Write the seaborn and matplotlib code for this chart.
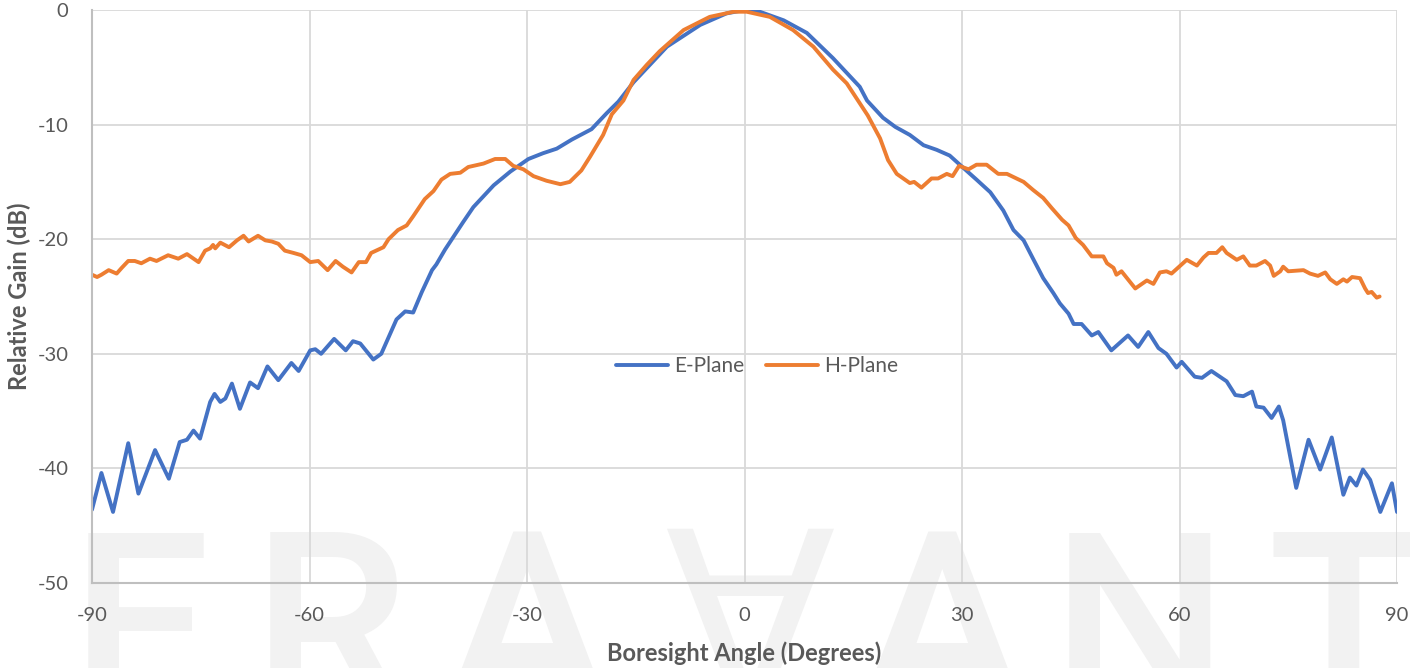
import pandas as pd
import matplotlib
matplotlib.use("Agg")
import matplotlib.pyplot as plt
from matplotlib.ticker import MultipleLocator
import seaborn as sns

# E-plane pattern
e_angle = [-90.0, -88.7, -87.1, -85.0, -83.6, -81.3, -79.4, -77.9, -76.9, -76.0,
           -75.1, -73.7, -73.1, -72.3, -71.6, -70.7, -69.6, -68.2, -67.1, -65.8,
           -64.3, -62.5, -61.5, -59.9, -59.2, -58.4, -56.6, -55.0, -54.0, -53.0,
           -51.2, -50.1, -48.0, -46.8, -45.7, -44.5, -43.1, -42.5, -41.3, -38.8,
           -37.4, -34.6, -32.3, -29.8, -27.8, -25.9, -23.8, -21.1, -19.0, -17.4,
           -15.3, -10.7, -6.1, -2.5, 0.0, 2.1, 5.4, 8.6, 12.2, 15.9,
           16.9, 19.1, 20.8, 22.8, 24.7, 26.5, 28.3, 29.7, 32.0, 33.9,
           35.7, 37.1, 38.5, 39.8, 41.2, 42.6, 43.5, 44.7, 45.4, 46.5,
           47.9, 48.8, 50.6, 52.9, 54.3, 55.7, 57.1, 58.2, 59.6, 60.3,
           62.1, 63.1, 64.4, 66.5, 67.7, 68.8, 70.0, 70.6, 71.6, 72.7,
           73.7, 74.3, 76.1, 77.8, 79.4, 81.0, 82.6, 83.5, 84.4, 85.3,
           86.3, 87.7, 89.3, 90.0]
e_gain = [-43.6, -40.4, -43.8, -37.8, -42.2, -38.4, -40.9, -37.7, -37.5, -36.7,
          -37.4, -34.2, -33.5, -34.2, -33.9, -32.6, -34.8, -32.5, -33.0, -31.1,
          -32.3, -30.8, -31.5, -29.7, -29.6, -30.0, -28.7, -29.7, -28.9, -29.1,
          -30.5, -30.0, -27.0, -26.3, -26.4, -24.6, -22.7, -22.2, -20.9, -18.5,
          -17.2, -15.3, -14.1, -13.0, -12.5, -12.1, -11.3, -10.4, -9.0, -8.0,
          -6.3, -3.2, -1.3, -0.3, 0.0, -0.15, -0.9, -2.0, -4.2, -6.7,
          -7.9, -9.4, -10.2, -10.9, -11.8, -12.2, -12.7, -13.5, -14.8, -15.9,
          -17.5, -19.2, -20.1, -21.7, -23.4, -24.7, -25.6, -26.5, -27.4, -27.4,
          -28.4, -28.1, -29.7, -28.4, -29.4, -28.1, -29.5, -30.0, -31.2, -30.7,
          -32.0, -32.1, -31.5, -32.4, -33.6, -33.7, -33.3, -34.6, -34.7, -35.6,
          -34.6, -35.8, -41.7, -37.5, -40.1, -37.3, -42.3, -40.8, -41.5, -40.1,
          -41.0, -43.8, -41.3, -43.8]

# H-plane pattern
h_angle = [-90.0, -89.3, -88.7, -87.7, -86.6, -85.9, -85.0, -84.1, -83.2, -82.0,
           -81.1, -79.5, -78.1, -76.9, -75.3, -74.4, -73.7, -73.3, -73.0, -72.3,
           -71.1, -70.0, -69.1, -68.4, -67.1, -66.1, -65.2, -64.3, -63.4, -62.2,
           -61.1, -59.9, -58.8, -57.5, -56.4, -55.4, -54.2, -53.2, -52.2, -51.5,
           -49.8, -49.1, -47.8, -46.6, -45.7, -44.1, -42.9, -41.8, -40.6, -39.2,
           -38.1, -36.0, -34.4, -33.0, -31.9, -30.5, -29.1, -27.3, -25.4, -24.1,
           -22.5, -21.3, -19.5, -18.3, -16.7, -15.3, -13.5, -11.7, -8.4, -4.8,
           -1.5, 0.3, 3.5, 6.7, 9.5, 12.2, 14.1, 17.0, 18.7, 19.8,
           21.0, 22.8, 23.4, 24.4, 25.8, 26.7, 27.9, 28.7, 29.6, 30.9,
           32.0, 33.4, 35.0, 36.2, 38.5, 39.8, 41.2, 42.4, 43.8, 44.7,
           45.7, 46.7, 47.9, 49.5, 50.0, 50.9, 51.3, 52.0, 53.9, 55.5,
           56.4, 57.3, 58.2, 58.9, 61.0, 62.4, 63.3, 64.0, 65.1, 65.9,
           66.5, 67.9, 68.8, 69.7, 70.6, 71.8, 72.5, 73.0, 73.9, 74.3,
           75.0, 77.1, 78.0, 79.1, 80.1, 80.8, 81.7, 82.6, 83.1, 83.8,
           84.9, 85.6, 86.0, 86.5, 87.2, 87.6]
h_gain = [-23.1, -23.3, -23.1, -22.7, -23.0, -22.5, -21.9, -21.9, -22.1, -21.7,
          -21.9, -21.4, -21.7, -21.3, -22.0, -21.0, -20.8, -20.5, -20.8, -20.3,
          -20.7, -20.1, -19.7, -20.2, -19.7, -20.1, -20.2, -20.4, -21.0, -21.2,
          -21.4, -22.0, -21.9, -22.7, -21.9, -22.4, -22.9, -22.0, -22.0, -21.2,
          -20.7, -20.0, -19.2, -18.8, -18.0, -16.5, -15.8, -14.8, -14.3, -14.2,
          -13.7, -13.4, -13.0, -13.0, -13.6, -13.9, -14.5, -14.9, -15.2, -15.0,
          -14.0, -12.8, -10.9, -9.1, -7.9, -6.1, -4.8, -3.6, -1.75, -0.6,
          -0.15, -0.15, -0.6, -1.75, -3.2, -5.2, -6.4, -9.2, -11.2, -13.1,
          -14.3, -15.1, -15.0, -15.5, -14.7, -14.7, -14.3, -14.5, -13.6, -13.9,
          -13.5, -13.5, -14.3, -14.3, -15.0, -15.7, -16.4, -17.3, -18.3, -18.8,
          -19.9, -20.5, -21.5, -21.5, -22.1, -22.5, -23.1, -22.8, -24.3, -23.6,
          -23.9, -22.9, -22.8, -23.0, -21.8, -22.3, -21.6, -21.2, -21.2, -20.7,
          -21.2, -21.8, -21.5, -22.3, -22.3, -21.9, -22.3, -23.2, -22.8, -22.4,
          -22.8, -22.7, -23.0, -23.2, -22.9, -23.5, -23.9, -23.5, -23.7, -23.3,
          -23.4, -24.3, -24.7, -24.6, -25.1, -25.0]

df = pd.concat([
    pd.DataFrame({"angle": e_angle, "gain": e_gain, "plane": "E-Plane"}),
    pd.DataFrame({"angle": h_angle, "gain": h_gain, "plane": "H-Plane"}),
])

sns.set_theme(style="white")
plt.rcParams["font.family"] = ["Lato", "DejaVu Sans"]
plt.rcParams["axes.unicode_minus"] = False

text_color = "#595959"
fig, ax = plt.subplots(figsize=(14.1, 6.68), dpi=100)
fig.subplots_adjust(left=92 / 1410, right=1397 / 1410,
                    bottom=1 - 583 / 668, top=1 - 10 / 668)
ax.set_facecolor("none")
ax.set_zorder(1)

# faint logo watermark behind the plot
for letter, xpix in [("E", 140), ("R", 330), ("A", 527), ("\u2200", 750),
                     ("A", 942), ("N", 1140), ("T", 1343)]:
    fig.text(xpix / 1410, 1 - 523 / 668, letter, fontsize=180,
             color="#f2f2f2", ha="center", va="top", zorder=0,
             fontweight="medium", family=["Roboto", "DejaVu Sans"])

sns.lineplot(data=df, x="angle", y="gain", hue="plane",
             palette=["#4472C4", "#ED7D31"], linewidth=2.8,
             estimator=None, ax=ax)

ax.set_xlim(-90, 90)
ax.set_ylim(-50, 0)
ax.set_xticks(range(-90, 91, 30))
ax.set_yticks(range(-50, 1, 10))
ax.xaxis.set_minor_locator(MultipleLocator(6))
ax.yaxis.set_minor_locator(MultipleLocator(2))
ax.grid(which="major", color="#d9d9d9", linewidth=1.3)
ax.tick_params(which="major", length=0, labelsize=14.5, labelcolor=text_color)
ax.tick_params(axis="x", which="major", pad=17)
ax.tick_params(axis="y", which="major", pad=17)
ax.tick_params(which="minor", direction="in", length=4, width=1.2,
               color="#bfbfbf")

for side in ["top", "right"]:
    ax.spines[side].set_visible(False)
for side in ["left", "bottom"]:
    ax.spines[side].set_color("#bfbfbf")
    ax.spines[side].set_linewidth(1.5)

ax.set_xlabel("Boresight Angle (Degrees)", fontsize=17, fontweight="bold",
              color=text_color)
ax.set_ylabel("Relative Gain (dB)", fontsize=17, fontweight="bold",
              color=text_color)
ax.xaxis.set_label_coords(0.5, -0.102)
ax.yaxis.set_label_coords(-0.047, 0.5)

handles, labels = ax.get_legend_handles_labels()
ax.legend(handles, labels, loc="center", bbox_to_anchor=(0.5096, 0.379),
          ncol=2, frameon=False, fontsize=15, labelcolor=text_color,
          handlelength=2.5, handletextpad=0.3, columnspacing=1.0)

plt.savefig("out.png", dpi=100)
